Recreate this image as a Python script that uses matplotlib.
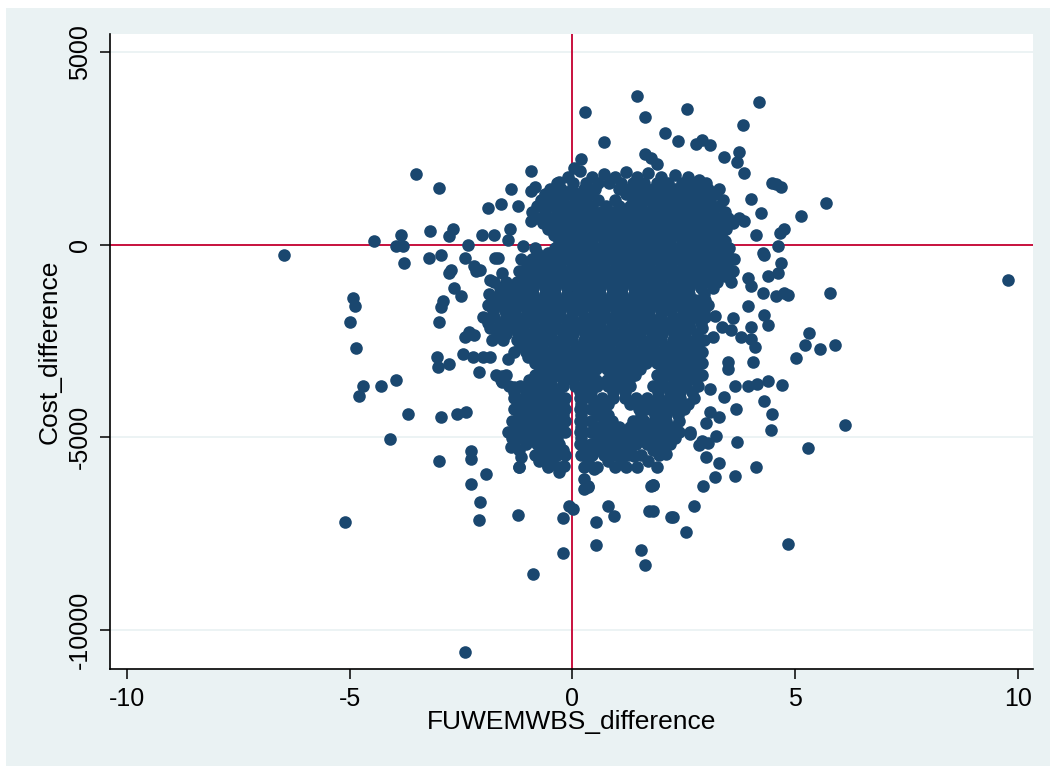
import matplotlib
matplotlib.use("Agg")
import matplotlib.pyplot as plt
from matplotlib.patches import Rectangle
import numpy as np

plt.rcParams['font.family'] = ['Liberation Sans', 'DejaVu Sans']
plt.rcParams['axes.unicode_minus'] = False

sparse_fuwemwbs = [
    1.46, 0.29, 1.64, 2.58, 0.70, 2.09, 2.38, 2.78, 1.62, 1.77, 1.89, 0.20, 0.04,
    -0.94, -3.52, -2.99, -1.89, -1.60, -1.37, -1.21, -0.92, -0.85, -0.92,
    -4.45, -3.84, -3.95, -3.80, -3.19, -2.67, -2.76, -2.34, -2.04, -1.75, -1.41, -1.44, -1.10, -0.85,
    -1.74, -2.08, -1.85, -1.56,
    4.20, 3.84, 3.08, 2.90, 3.41, 3.75, 3.70, 3.86, 4.58, 4.69, 4.47, 5.70, 5.14, 4.24, 4.00,
    3.73, 3.86, 4.13, 4.65, 4.76, 4.62, 4.29,
    9.79, 5.79, 5.32, 5.23, 5.55, 5.90, 5.03, 4.71, 4.40, 4.31, 4.49, 4.45, 6.13, 5.30, 4.13,
    3.64, 3.30, 3.21, 2.94, 2.99, 3.70, 2.74, 2.25, 2.54, 1.82, 1.82,
    4.06, 3.50, 3.50, 3.95, 4.15, 3.64, 3.41, 3.68, 3.08, 3.30, 3.01, 3.23, 2.90, 2.63,
    4.02, 4.09, 4.31, 4.40, 4.74, 4.85, 4.58, 4.29, 4.02, 3.95, 4.31, 4.69, 4.62, 4.40,
    3.52, 3.95, 4.02, 3.79, 3.57, 3.35, 3.20, 3.60, 3.15, 3.10, 2.85, 3.05, 2.10,
    -4.92, -4.89, -5.00, -4.85, -4.69, -4.80, -4.29, -3.97, -3.68, -4.09, -2.94, -2.60, -2.38,
    -2.99, -2.27, -2.27, -1.93, -2.27, -3.77, -3.23, -2.94, -2.78, -2.72, -2.65, -2.51, -2.90,
    -2.94, -2.99, -3.05, -3.01, -2.78, -2.45, -2.22, -2.00, -1.86, -2.09, -2.31, -2.42, -2.20,
    -1.59, -1.59, -1.44, -1.30, -1.21, -1.19, -1.37, -1.15, -1.19, -1.15, -1.21, -0.92, -0.85,
    -0.40, -0.54, -0.31, -0.18, 0.27, 0.36, 0.49, 1.77, 2.63, 0.92, 1.39, 1.95,
    -1.66, -2.16, -1.59, -2.42, -2.20, -6.47,
    -5.10, -2.40, -2.07, -2.09, -1.23, -0.88, -0.20, -0.20, 0.02, -0.07, 0.27, 0.36, 0.54,
    0.54, 0.81, 0.94, 1.55, 1.62, 1.73, 1.80, 2.22, 4.85,
    0.18, 0.70, 1.20, 1.70, 2.30, 2.85, -0.30,
]
sparse_cost = [
    3870, 3450, 3300, 3530, 2670, 2900, 2700, 2620, 2360, 2260, 2080, 2230, 2000,
    1920, 1840, 1480, 960, 1040, 1430, 990, 1380, 1500, 600,
    80, 260, -30, -50, 340, 390, 210, 0, 260, 260, 390, 130, -50, -80,
    -350, -660, -920, -1100,
    3710, 3110, 2590, 2720, 2280, 2410, 2150, 1870, 1560, 1500, 1610, 1090, 730, 830, 1170,
    700, 600, 260, 310, 390, -50, -210,
    -910, -1270, -2310, -2620, -2720, -2620, -2960, -3660, -3550, -4070, -4390, -4830, -4700, -5290, -5790,
    -6020, -5680, -6050, -6280, -5530, -5140, -6800, -7080, -7470, -6930, -6250,
    -3060, -3060, -3240, -3680, -3630, -3680, -3970, -4280, -4360, -4490, -4640, -4980, -5110, -4930,
    -2460, -2650, -1820, -2080, -1250, -1300, -1350, -1250, -1090, -860, -260, -470, -730, -830,
    -830, -1610, -2130, -2390, -2210, -2130, -1850, -1900, -2400, -3750, -5200, -5150, -5450,
    -1380, -1610, -2000, -2700, -3680, -3940, -3680, -3530, -4410, -5060, -4490, -4410, -4360,
    -5630, -5370, -5580, -5970, -6230, -470, -340, -260, -730, -650, -1120, -1350, -1480,
    -1630, -2000, -2930, -3170, -3110, -2850, -2910, -2910, -2930, -3300, -2280, -340, -570,
    -3420, -3580, -2980, -3710, -4020, -4280, -5270, -5530, -5790, -4720, -4980, -4980, -4720,
    -5370, -5760, -5920, -5760, -6100, -6310, -5840, -6280, -4880, -5320, -5500, -5400,
    -340, -700, -730, -2390, -2340, -260,
    -7210, -10590, -6690, -7160, -7030, -8560, -8020, -7110, -6880, -6800, -6360, -6280, -7210,
    -7810, -6800, -7060, -7940, -8330, -6930, -6250, -7080, -7780,
    1900, 1820, 1880, 1850, 1800, 1680, 1620,
]

# dense centre of the cloud, read as rows of cost difference
core_cost = [1750, 1450, 1150, 850, 550, 250, -80, -380, -680, -980, -1280, -1580, -1880,
             -2180, -2480, -2780, -3080, -3380, -3680, -3980, -4280, -4580, -4880, -5180,
             -5480, -5780]
core_fuwemwbs = [
    [-0.10, 0.45, 0.95, 1.45, 2.00, 2.60],
    [-0.50, -0.25, 0.00, 0.25, 0.50, 1.05, 1.30, 1.55, 1.80, 2.05, 2.30, 2.55, 2.80, 3.05, 3.30],
    [-0.70, -0.45, -0.20, 0.05, 0.30, 0.58, 0.95, 1.35, 1.60, 1.85, 2.10, 2.35, 2.60, 2.85, 3.10, 3.38],
    [-0.90, -0.62, -0.35, -0.10, 0.15, 0.40, 0.65, 0.90, 1.15, 1.40, 1.65, 1.90, 2.15, 2.40, 2.65,
     2.90, 3.15, 3.42],
    [-0.65, -0.40, -0.15, 0.10, 0.35, 0.60, 0.85, 1.10, 1.35, 1.60, 1.85, 2.10, 2.35, 2.60, 2.85,
     3.10, 3.35, 3.60],
    [-0.42, -0.18, 0.08, 0.33, 0.58, 0.83, 1.08, 1.33, 1.58, 1.83, 2.08, 2.33, 2.58, 2.83, 3.08, 3.33],
    [-0.40, -0.15, 0.10, 0.35, 0.60, 0.85, 1.10, 1.35, 1.60, 1.85, 2.10, 2.35, 2.60, 2.85, 3.10,
     3.35, 3.52],
    [-1.15, -0.90, -0.65, -0.40, -0.15, 0.10, 0.35, 0.60, 0.85, 1.10, 1.35, 1.60, 1.85, 2.10, 2.35,
     2.60, 2.85, 3.10, 3.35, 3.62],
    [-1.20, -0.95, -0.70, -0.45, -0.20, 0.05, 0.30, 0.55, 0.80, 1.05, 1.30, 1.55, 1.80, 2.05, 2.30,
     2.55, 2.80, 3.05, 3.30, 3.60],
    [-1.75, -1.50, -1.25, -1.00, -0.75, -0.50, -0.25, 0.00, 0.25, 0.50, 0.75, 1.00, 1.25, 1.50,
     1.75, 2.00, 2.25, 2.50, 2.75, 3.00, 3.25, 3.55],
    [-1.88, -1.62, -1.38, -1.12, -0.88, -0.62, -0.38, -0.12, 0.12, 0.38, 0.62, 0.88, 1.12, 1.38,
     1.62, 1.88, 2.12, 2.38, 2.62, 2.95],
    [-1.90, -1.65, -1.40, -1.15, -0.90, -0.65, -0.40, -0.15, 0.10, 0.35, 0.60, 0.85, 1.10, 1.35,
     1.60, 1.85, 2.10, 2.35, 2.60, 2.85, 3.05],
    [-2.00, -1.75, -1.50, -1.25, -1.00, -0.75, -0.50, -0.25, 0.00, 0.25, 0.50, 0.75, 1.00, 1.25,
     1.50, 1.75, 2.00, 2.25, 2.50, 2.75, 2.98],
    [-1.85, -1.60, -1.35, -1.10, -0.85, -0.60, -0.35, -0.10, 0.15, 0.40, 0.65, 0.90, 1.15, 1.40,
     1.65, 1.90, 2.15, 2.40, 2.65, 2.92],
    [-1.80, -1.55, -1.25, -1.00, -0.75, -0.50, -0.25, 0.00, 0.25, 0.50, 0.75, 1.00, 1.25, 1.50,
     1.75, 2.00, 2.25, 2.50, 2.75, 2.95],
    [-1.30, -1.05, -0.80, -0.55, -0.30, -0.05, 0.20, 0.45, 0.70, 0.95, 1.20, 1.45, 1.70, 1.95,
     2.20, 2.45, 2.70, 2.92],
    [-0.85, -0.60, -0.35, -0.10, 0.15, 0.40, 0.65, 0.90, 1.15, 1.40, 1.65, 1.90, 2.15, 2.40, 2.65, 2.90],
    [-1.72, -1.48, -0.85, -0.60, -0.35, -0.10, 0.15, 0.40, 0.90, 1.15, 1.40, 1.90, 2.15, 2.40, 2.65, 2.90],
    [-1.42, -1.18, -0.95, -0.70, -0.45, -0.20, 0.05, 0.30, 0.55, 0.80, 1.05, 1.30, 1.80, 2.05,
     2.30, 2.55, 2.82],
    [-1.30, -1.05, -0.80, -0.55, -0.32, -0.16, 0.16, 0.42, 0.67, 0.92, 1.17, 1.42, 1.67, 1.92,
     2.17, 2.42, 2.72],
    [-1.30, -1.05, -0.80, -0.55, -0.35, -0.16, 0.16, 0.42, 0.67, 1.50, 1.75, 2.00, 2.25, 2.50],
    [-1.35, -1.10, -0.85, -0.60, -0.38, -0.16, 0.16, 0.42, 0.70, 0.90, 1.35, 1.60, 1.85, 2.10, 2.40],
    [-1.45, -1.20, -0.95, -0.70, -0.45, -0.17, 0.17, 0.42, 0.67, 0.92, 1.17, 1.42, 1.67, 1.92,
     2.17, 2.40],
    [-1.30, -1.05, -0.80, -0.55, -0.30, 0.17, 0.42, 0.67, 0.92, 1.17, 1.42, 1.67, 1.92, 2.20],
    [-0.85, -0.60, -0.35, -0.17, 0.20, 0.45, 0.70, 0.95, 1.25, 1.55, 1.95],
    [-1.20, -0.55, -0.30, 0.25, 0.55, 0.95, 1.20, 1.45, 1.90],
]

# rows lying between the ones above
mid_cost = [1600, 1300, 1000, 700, 400, 100, -230, -530, -830, -1130, -1430, -1730, -2030,
            -2330, -2630, -2930, -3230, -3530, -3830, -4130, -4430, -4730, -5030, -5330, -5630]
mid_fuwemwbs = [
    [-0.35, 0.02, 0.30, 0.58, 0.82, 1.10, 1.35, 1.60, 1.90, 2.15, 2.45, 2.70, 3.00],
    [-0.62, -0.38, -0.12, 0.12, 0.40, 1.20, 1.45, 1.70, 1.95, 2.20, 2.45, 2.70, 2.95, 3.20],
    [-0.80, -0.55, -0.30, -0.05, 0.20, 0.45, 0.75, 1.05, 1.30, 1.55, 1.80, 2.05, 2.30, 2.55, 2.80,
     3.05, 3.30],
    [-0.78, -0.50, -0.25, 0.00, 0.25, 0.50, 0.75, 1.00, 1.25, 1.50, 1.75, 2.00, 2.25, 2.50, 2.75,
     3.00, 3.25, 3.50],
    [-0.55, -0.30, -0.05, 0.20, 0.45, 0.70, 0.95, 1.20, 1.45, 1.70, 1.95, 2.20, 2.45, 2.70, 2.95,
     3.20, 3.45],
    [-0.30, -0.05, 0.20, 0.45, 0.70, 0.95, 1.20, 1.45, 1.70, 1.95, 2.20, 2.45, 2.70, 2.95, 3.20, 3.42],
    [-0.80, -0.55, -0.28, -0.02, 0.22, 0.48, 0.72, 0.98, 1.22, 1.48, 1.72, 1.98, 2.22, 2.48, 2.72,
     2.98, 3.22, 3.48],
    [-1.02, -0.78, -0.52, -0.28, -0.02, 0.22, 0.48, 0.72, 0.98, 1.22, 1.48, 1.72, 1.98, 2.22, 2.48,
     2.72, 2.98, 3.22, 3.48],
    [-1.10, -0.82, -0.58, -0.32, -0.08, 0.18, 0.42, 0.68, 0.92, 1.18, 1.42, 1.68, 1.92, 2.18, 2.42,
     2.68, 2.92, 3.18, 3.42],
    [-1.62, -1.38, -1.12, -0.88, -0.62, -0.38, -0.12, 0.12, 0.38, 0.62, 0.88, 1.12, 1.38, 1.62,
     1.88, 2.12, 2.38, 2.62, 2.88, 3.15],
    [-1.75, -1.50, -1.25, -1.00, -0.75, -0.50, -0.25, 0.00, 0.25, 0.50, 0.75, 1.00, 1.25, 1.50,
     1.75, 2.00, 2.25, 2.50, 2.75, 2.98],
    [-1.78, -1.52, -1.28, -1.02, -0.78, -0.52, -0.28, -0.02, 0.22, 0.48, 0.72, 0.98, 1.22, 1.48,
     1.72, 1.98, 2.22, 2.48, 2.72, 2.95],
    [-1.90, -1.62, -1.38, -1.12, -0.88, -0.62, -0.38, -0.12, 0.12, 0.38, 0.62, 0.88, 1.12, 1.38,
     1.62, 1.88, 2.12, 2.38, 2.62, 2.88],
    [-1.70, -1.48, -1.22, -0.98, -0.72, -0.48, -0.22, 0.02, 0.28, 0.52, 0.78, 1.02, 1.28, 1.52,
     1.78, 2.02, 2.28, 2.52, 2.80],
    [-1.18, -0.92, -0.68, -0.42, -0.18, 0.08, 0.32, 0.58, 0.82, 1.08, 1.32, 1.58, 1.82, 2.08,
     2.32, 2.58, 2.82],
    [-1.00, -0.72, -0.48, -0.22, 0.02, 0.28, 0.52, 0.78, 1.02, 1.28, 1.52, 1.78, 2.02, 2.28, 2.52, 2.78],
    [-0.72, -0.48, -0.22, 0.02, 0.28, 0.52, 0.78, 1.02, 1.28, 1.52, 2.02, 2.28, 2.52, 2.78],
    [-1.60, -0.98, -0.72, -0.48, -0.22, 0.02, 0.28, 0.52, 0.78, 1.02, 1.28, 2.02, 2.28, 2.52, 2.78],
    [-1.30, -1.05, -0.82, -0.58, -0.32, 0.18, 0.42, 0.92, 1.18, 1.92, 2.18, 2.42, 2.68],
    [-1.18, -0.92, -0.68, -0.42, -0.20, 0.20, 0.55, 0.80, 1.30, 1.55, 1.80, 2.05, 2.32, 2.60],
    [-1.20, -0.95, -0.70, -0.48, -0.20, 0.20, 0.55, 0.80, 1.55, 1.85, 2.10, 2.38],
    [-1.25, -1.00, -0.75, -0.50, -0.25, 0.20, 0.55, 0.80, 1.05, 1.30, 1.50, 1.75, 2.00, 2.25],
    [-1.35, -1.10, -0.85, -0.60, -0.35, 0.20, 0.55, 0.80, 1.05, 1.30, 1.55, 1.80, 2.05, 2.30],
    [-1.20, -0.70, -0.45, -0.20, 0.30, 0.55, 0.80, 1.05, 1.30, 1.80, 2.05],
    [-0.75, -0.45, 0.35, 0.80, 1.10, 1.70],
]

x_ticks = [-10, -5, 0, 5, 10]
y_ticks = [-10000, -5000, 0, 5000]

navy = '#1a476f'
red = '#c8103e'
bg = '#eaf2f3'

# flatten the rows of the centre and add the scattered points
x_all = list(sparse_fuwemwbs)
y_all = list(sparse_cost)
for costs, rows in [(core_cost, core_fuwemwbs), (mid_cost, mid_fuwemwbs)]:
    for cost, row in zip(costs, rows):
        x_all.extend(row)
        y_all.extend([cost] * len(row))

fig = plt.figure(figsize=(10.5, 7.66), dpi=100, facecolor='white')
fig.patches.append(Rectangle((6 / 1050, 0), 1, (766 - 8) / 766, transform=fig.transFigure,
                             facecolor=bg, edgecolor='none', zorder=-10))

ax = fig.add_axes([110 / 1050, 1 - 669 / 766, (1033 - 110) / 1050, (669 - 34) / 766])
ax.set_facecolor('white')

ax.axhline(0, color=red, lw=1.4, zorder=2)
ax.axvline(0, color=red, lw=1.4, zorder=2)
ax.scatter(x_all, y_all, s=82, color=navy, linewidths=0, zorder=3)

ax.set_xlim(-10.38, 10.34)
ax.set_ylim(-11026, 5468)
ax.set_xticks(x_ticks)
ax.set_yticks(y_ticks)

ax.yaxis.grid(True, color=bg, lw=1.3)
ax.set_axisbelow(True)

for side in ['top', 'right']:
    ax.spines[side].set_visible(False)
for side in ['left', 'bottom']:
    ax.spines[side].set_linewidth(1.2)
    ax.spines[side].set_color('black')

ax.tick_params(axis='both', direction='out', length=7, width=1.1, labelsize=18, pad=6)
ax.tick_params(axis='y', labelrotation=90)
for lab in ax.get_yticklabels():
    lab.set_va('center')

ax.set_xlabel('FUWEMWBS_difference', fontsize=19)
ax.set_ylabel('Cost_difference', fontsize=19)
ax.xaxis.set_label_coords(0.5, -0.065)
ax.yaxis.set_label_coords(-0.052, 0.5)

fig.savefig('out.png', dpi=100, facecolor=fig.get_facecolor())
